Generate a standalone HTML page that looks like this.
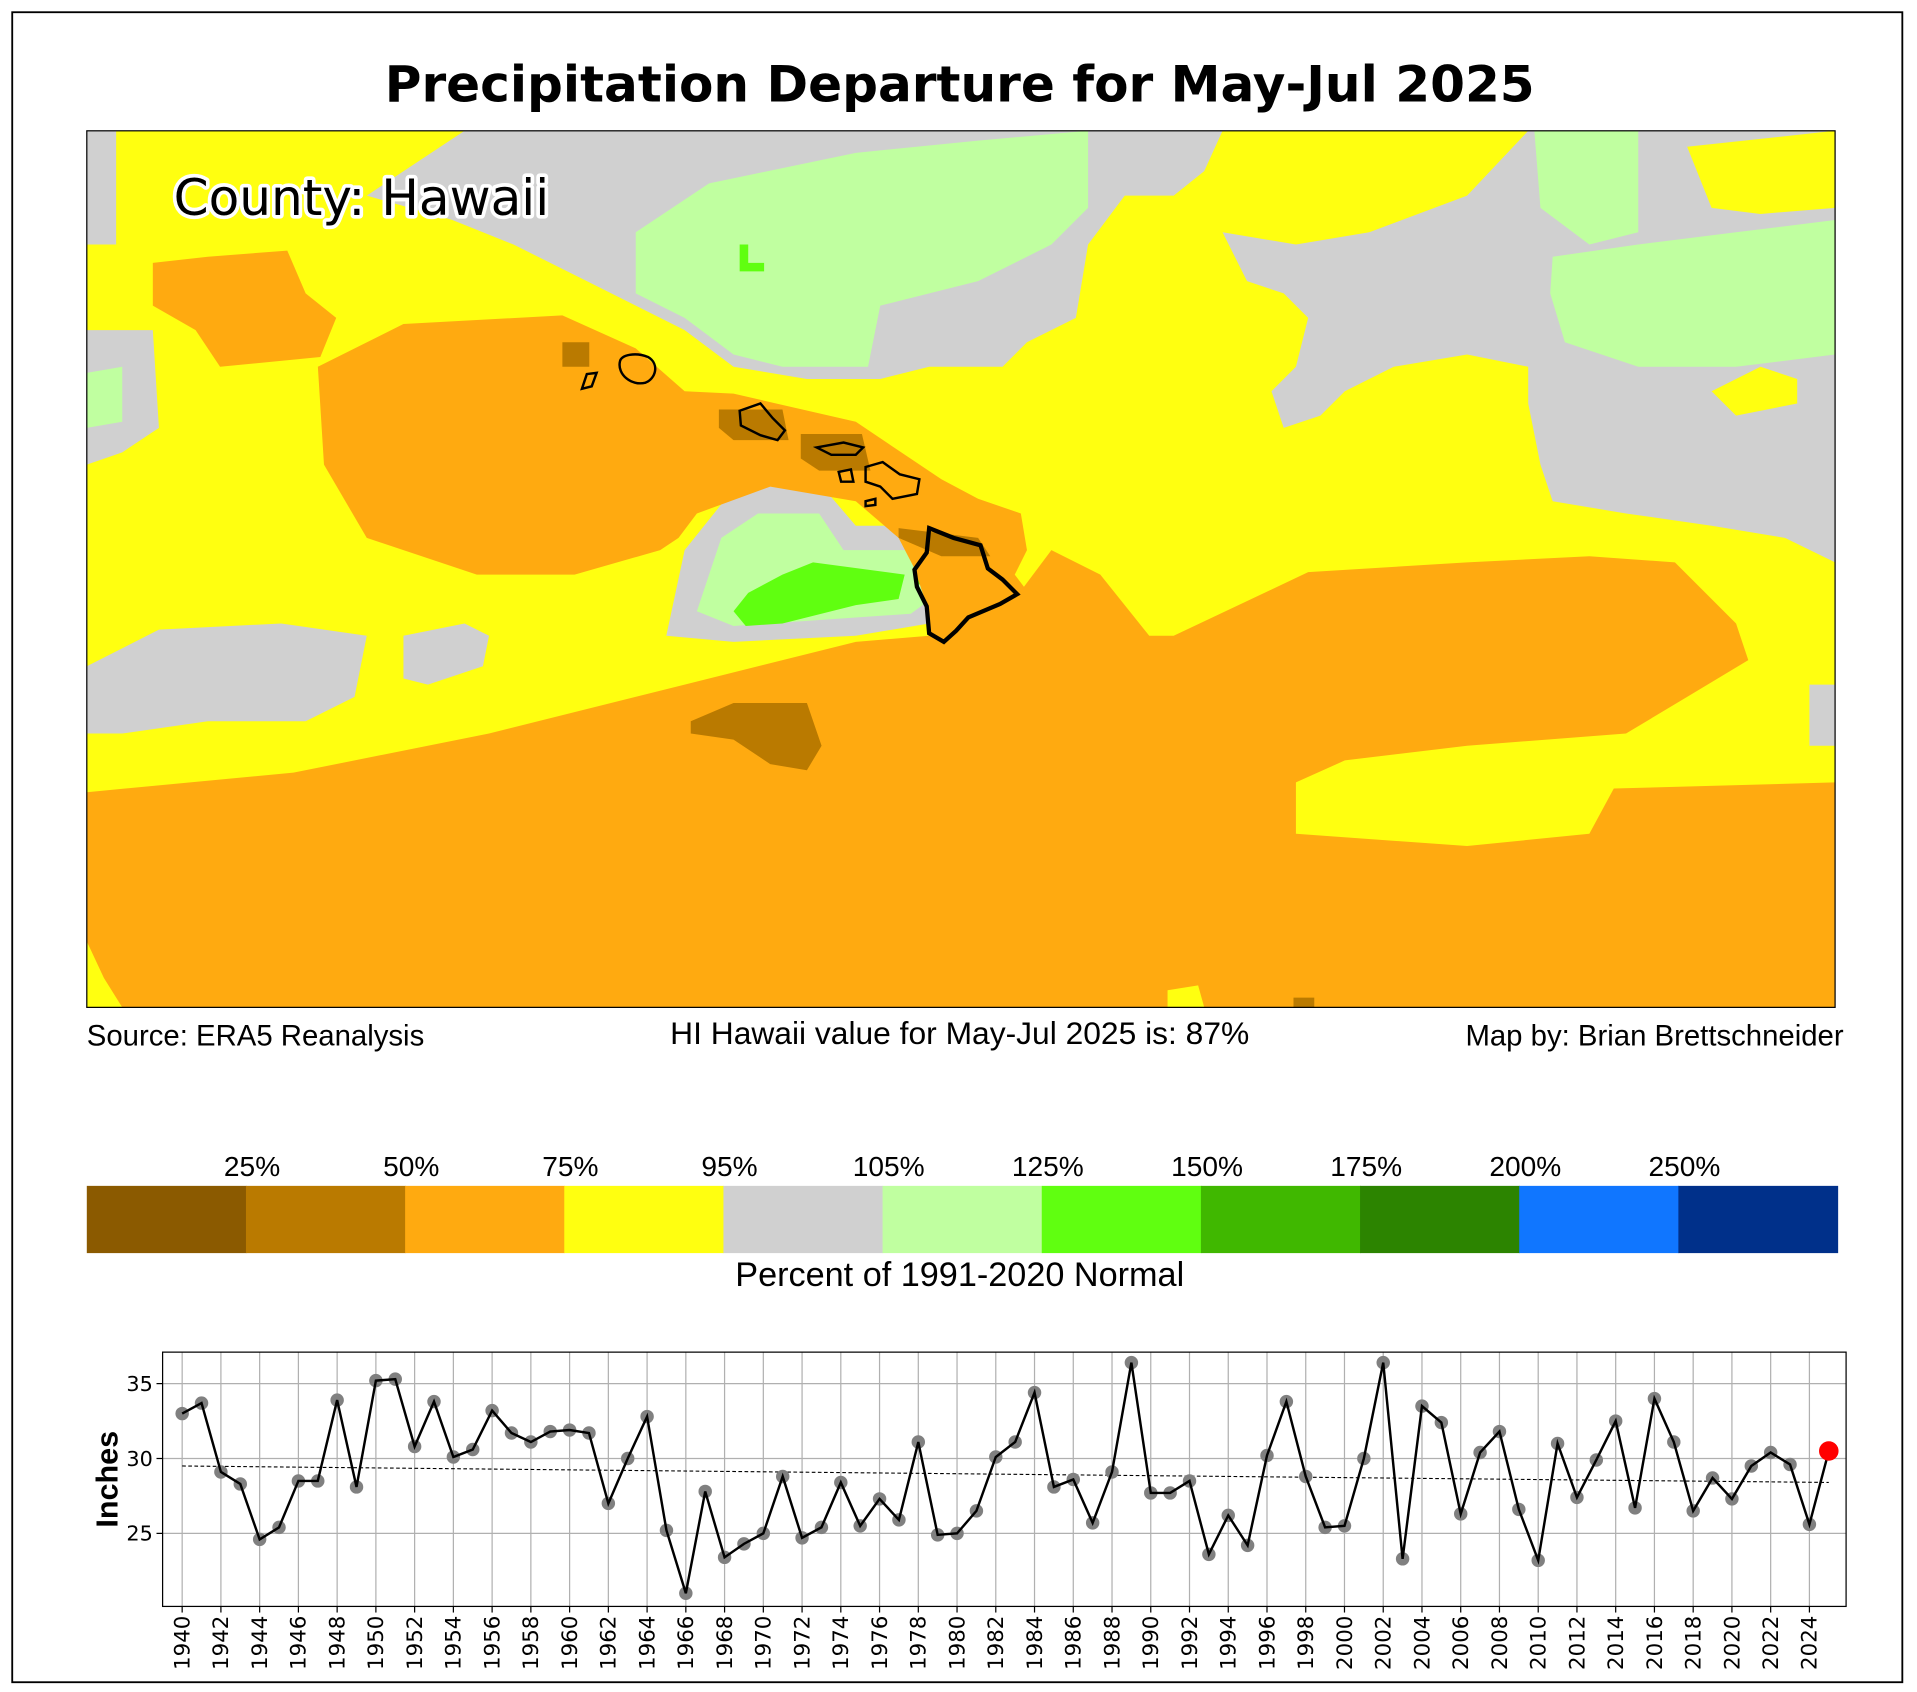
<!DOCTYPE html>
<html><head><meta charset="utf-8"><style>
html,body{margin:0;padding:0;background:#fff;}
svg{display:block;}
</style></head><body>
<svg id="s" width="1917" height="1692" viewBox="0 0 1568 1384" preserveAspectRatio="none" xmlns="http://www.w3.org/2000/svg">
<rect x="0" y="0" width="1568" height="1384" fill="#fff"/>
<rect x="10" y="10" width="1546" height="1366" fill="none" stroke="#000" stroke-width="1.5"/>
<text x="785" y="83" text-anchor="middle" font-family="DejaVu Sans, sans-serif" font-weight="bold" font-size="41">Precipitation Departure for May-Jul 2025</text>
<defs><clipPath id="mc"><rect x="71" y="107" width="1430" height="717"/></clipPath></defs>
<g clip-path="url(#mc)">
<rect x="71" y="107" width="1430" height="717" fill="#ffff10"/>
<polygon fill="#d0d0d0" points="71,107 95,107 95,200 71,200"/>
<polygon fill="#d0d0d0" points="380,107 1000,107 985,140 960,160 920,160 890,200 880,260 840,280 820,300 760,300 720,310 660,310 600,300 560,270 520,250 480,230 420,200 370,180 300,160"/>
<polygon fill="#d0d0d0" points="1000,190 1060,200 1120,190 1200,160 1250,107 1501,107 1501,460 1460,440 1400,430 1330,420 1270,410 1260,380 1250,330 1250,300 1200,290 1140,300 1100,320 1080,340 1050,350 1040,320 1060,300 1070,260 1050,240 1020,230"/>
<polygon fill="#ffff10" points="1380,120 1501,107 1501,170 1440,175 1400,170"/>
<polygon fill="#ffff10" points="1400,320 1440,300 1470,310 1470,330 1420,340"/>
<polygon fill="#d0d0d0" points="71,270 125,270 130,350 100,370 71,380"/>
<polygon fill="#d0d0d0" points="71,545 130,515 230,510 300,520 290,570 250,590 170,590 100,600 71,600"/>
<polygon fill="#d0d0d0" points="330,520 380,510 400,520 395,545 350,560 330,555"/>
<polygon fill="#d0d0d0" points="545,520 560,450 600,400 670,395 700,430 750,430 775,470 760,510 700,520 600,525"/>
<polygon fill="#d0d0d0" points="1480,560 1501,560 1501,610 1480,610"/>
<polygon fill="#c0ffa0" points="520,190 580,150 700,125 800,115 890,107 890,170 860,200 800,230 720,250 710,300 640,300 600,290 560,260 520,240"/>
<polygon fill="#c0ffa0" points="1255,107 1340,107 1340,190 1300,200 1260,170"/>
<polygon fill="#c0ffa0" points="1270,210 1340,200 1420,190 1501,180 1501,290 1420,300 1340,300 1280,280 1268,240"/>
<polygon fill="#c0ffa0" points="71,305 100,300 100,345 71,350"/>
<polygon fill="#c0ffa0" points="570,500 590,440 620,420 670,420 690,450 750,450 775,480 745,502 600,512"/>
<polygon fill="#60ff10" points="600,500 612,485 640,470 665,460 740,470 735,490 700,495 640,510 610,512"/>
<polygon fill="#60ff10" points="605,200 612,200 612,215 625,215 625,222 605,222"/>
<polygon fill="#60ff10" points="750,452 772,452 772,478 750,478"/>
<polygon fill="#ffaa10" points="125,215 170,210 235,205 250,240 275,260 262,292 180,300 160,270 125,250"/>
<polygon fill="#ffaa10" points="260,300 330,265 460,258 520,285 560,320 600,322 700,345 770,392 800,408 835,420 840,450 830,470 845,490 830,500 820,540 790,545 780,525 760,518 758,495 748,465 735,440 700,410 630,398 570,420 555,440 540,450 470,470 390,470 300,440 265,380"/>
<polygon fill="#ffaa10" points="71,648 240,632 400,600 560,560 700,525 760,520 830,490 860,450 900,470 940,520 960,520 1070,468 1200,460 1300,455 1370,460 1420,510 1430,540 1380,570 1330,600 1200,610 1100,622 1060,640 1060,682 1200,692 1300,682 1320,645 1501,640 1501,824 100,824 85,800 71,770"/>
<polygon fill="#ffff10" points="955,810 980,806 985,824 955,824"/>
<polygon fill="#ba7a00" points="565,590 600,575 660,575 672,610 660,630 630,625 600,605 565,600"/>
<polygon fill="#ba7a00" points="460,280 482,280 482,300 460,300"/>
<polygon fill="#ba7a00" points="588,335 640,335 645,360 600,360 588,350"/>
<polygon fill="#ba7a00" points="655,355 705,355 712,385 670,385 655,375"/>
<polygon fill="#ba7a00" points="735,432 800,440 810,455 770,455 735,440"/>
<polygon fill="#ba7a00" points="1058,816 1075,816 1075,824 1058,824"/>
<g fill="none" stroke="#000" stroke-width="2">
<path d="M507,296 C508,290 520,288 530,292 C540,298 536,310 528,313 C516,316 505,306 507,296Z"/>
<path d="M480,306 L488,305 L484,316 L476,318Z"/>
<path d="M605,336 L622,330 L632,342 L642,352 L636,360 L622,356 L606,348Z"/>
<path d="M668,366 L690,362 L706,366 L700,372 L680,372Z"/>
<path d="M708,382 L722,378 L736,388 L752,392 L750,404 L730,408 L720,398 L708,394Z"/>
<path d="M686,386 L696,384 L698,394 L688,394Z"/>
<path d="M708,410 L716,408 L716,413 L708,414Z"/>
</g>
<path d="M760,432 L780,440 L802,446 L808,465 L820,474 L832,486 L818,494 L792,505 L782,516 L772,525 L760,518 L758,496 L750,480 L748,466 L758,452Z" fill="none" stroke="#000" stroke-width="3.5"/>
</g>
<rect x="71" y="107" width="1430" height="717" fill="none" stroke="#000" stroke-width="1"/>
<text x="142" y="176" font-family="DejaVu Sans, sans-serif" font-size="41" fill="#000" stroke="#fff" stroke-width="6" paint-order="stroke" stroke-linejoin="round">County: Hawaii</text>
<text x="71" y="855" font-family="Liberation Sans, sans-serif" font-size="24">Source: ERA5 Reanalysis</text>
<text x="785" y="854" text-anchor="middle" font-family="Liberation Sans, sans-serif" font-size="26">HI Hawaii value for May-Jul 2025 is: 87%</text>
<text x="1508" y="855" text-anchor="end" font-family="Liberation Sans, sans-serif" font-size="24">Map by: Brian Brettschneider</text>
<g id="cb"></g>
<text x="785" y="1052" text-anchor="middle" font-family="Liberation Sans, sans-serif" font-size="28">Percent of 1991-2020 Normal</text>
<g id="ch"></g>
</svg>
<script>
var NS="http://www.w3.org/2000/svg";
function el(p,t,a,txt){var e=document.createElementNS(NS,t);for(var k in a)e.setAttribute(k,a[k]);if(txt!==undefined)e.textContent=txt;p.appendChild(e);return e;}
var cb=document.getElementById('cb');
var cols=["#8b5a00","#ba7a00","#ffaa10","#ffff10","#d0d0d0","#c0ffa0","#60ff10","#40b800","#2c8400","#1076ff","#00308a"];
var labs=["25%","50%","75%","95%","105%","125%","150%","175%","200%","250%"];
var x0=71,x1=1503,w=(x1-x0)/11;
cols.forEach(function(c,i){el(cb,'rect',{x:x0+i*w,y:970,width:w+0.5,height:55,fill:c});});
labs.forEach(function(l,i){el(cb,'text',{x:x0+(i+1)*w+5,y:962,'text-anchor':'middle','font-family':'Liberation Sans, sans-serif','font-size':'23'},l);});
var ch=document.getElementById('ch');
var d=[33.0,33.7,29.1,28.3,24.6,25.4,28.5,28.5,33.9,28.1,35.2,35.3,30.8,33.8,30.1,30.6,33.2,31.7,31.1,31.8,31.9,31.7,27.0,30.0,32.8,25.2,21.0,27.8,23.4,24.3,25.0,28.8,24.7,25.4,28.4,25.5,27.3,25.9,31.1,24.9,25.0,26.5,30.1,31.1,34.4,28.1,28.6,25.7,29.1,36.4,27.7,27.7,28.5,23.6,26.2,24.2,30.2,33.8,28.8,25.4,25.5,30.0,36.4,23.3,33.5,32.4,26.3,30.4,31.8,26.6,23.2,31.0,27.4,29.9,32.5,26.7,34.0,31.1,26.5,28.7,27.3,29.5,30.4,29.6,25.6,30.5];
function X(y){return 149+(y-1940)*(1480-149)/84;}
function Y(v){return 1193-(v-30)*12.25;}
var px0=133,px1=1510,py0=1106,py1=1314;
for(var yr=1940;yr<=2024;yr+=2){el(ch,'line',{x1:X(yr),x2:X(yr),y1:py0,y2:py1,stroke:'#b0b0b0','stroke-width':1});
 var tx=X(yr)+6,ty=1366;el(ch,'text',{x:tx,y:ty,transform:'rotate(-90 '+tx+' '+ty+')','font-family':'DejaVu Sans, sans-serif','font-size':'17.5'},String(yr));
 el(ch,'line',{x1:X(yr),x2:X(yr),y1:py1,y2:py1+5,stroke:'#000'});}
[25,30,35].forEach(function(v){el(ch,'line',{x1:px0,x2:px1,y1:Y(v),y2:Y(v),stroke:'#b0b0b0','stroke-width':1});
 el(ch,'line',{x1:px0-5,x2:px0,y1:Y(v),y2:Y(v),stroke:'#000'});
 el(ch,'text',{x:px0-8,y:Y(v)+6,'text-anchor':'end','font-family':'DejaVu Sans, sans-serif','font-size':'17'},String(v));});
el(ch,'line',{x1:X(1940),y1:Y(29.5),x2:X(2025),y2:Y(28.4),stroke:'#000','stroke-width':0.9,'stroke-dasharray':'3,2'});
for(var i=0;i<85;i++)el(ch,'circle',{cx:X(1940+i),cy:Y(d[i]),r:5.5,fill:'#808080'});
var pts=d.map(function(v,i){return X(1940+i)+','+Y(v);}).join(' ');
el(ch,'polyline',{points:pts,fill:'none',stroke:'#000','stroke-width':2});
el(ch,'circle',{cx:X(2025),cy:Y(30.5),r:8,fill:'#ff0000'});
el(ch,'rect',{x:px0,y:py0,width:px1-px0,height:py1-py0,fill:'none',stroke:'#000','stroke-width':1});
el(ch,'text',{x:96,y:1210,transform:'rotate(-90 96 1210)','text-anchor':'middle','font-family':'Liberation Sans, sans-serif','font-weight':'bold','font-size':'25'},'Inches');
</script>
</body></html>
